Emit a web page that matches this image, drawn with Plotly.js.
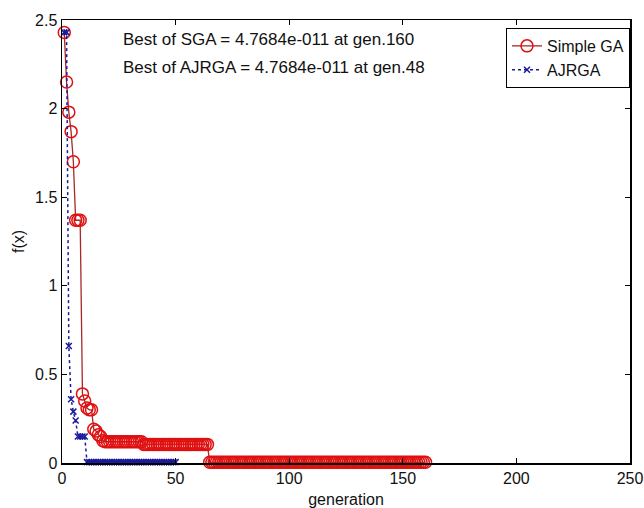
<!DOCTYPE html>
<html><head><meta charset="utf-8">
<script src="https://cdn.plot.ly/plotly-3.0.1.min.js"></script>
<style>html,body{margin:0;padding:0;background:#fff;}#c{width:644px;height:508px;}</style>
</head><body><div id="c"></div>
<script>
const sgaValues = [
 2.43, 2.15, 1.98, 1.87, 1.70, 1.37, 1.37, 1.37, 0.39, 0.35,
 0.31, 0.30, 0.30, 0.19, 0.18, 0.16, 0.15, 0.125, 0.12, 0.12,
 0.12, 0.12, 0.12, 0.12, 0.12, 0.12, 0.12, 0.12, 0.12, 0.12,
 0.12, 0.12, 0.12, 0.12, 0.12, 0.105, 0.105, 0.105, 0.105, 0.105,
 0.105, 0.105, 0.105, 0.105, 0.105, 0.105, 0.105, 0.105, 0.105, 0.105,
 0.105, 0.105, 0.105, 0.105, 0.105, 0.105, 0.105, 0.105, 0.105, 0.105,
 0.105, 0.105, 0.105, 0.105, 0.004, 0.004, 0.004, 0.004, 0.004, 0.004,
 0.004, 0.004, 0.004, 0.004, 0.004, 0.004, 0.004, 0.004, 0.004, 0.004,
 0.004, 0.004, 0.004, 0.004, 0.004, 0.004, 0.004, 0.004, 0.004, 0.004,
 0.004, 0.004, 0.004, 0.004, 0.004, 0.004, 0.004, 0.004, 0.004, 0.004,
 0.004, 0.004, 0.004, 0.004, 0.004, 0.004, 0.004, 0.004, 0.004, 0.004,
 0.004, 0.004, 0.004, 0.004, 0.004, 0.004, 0.004, 0.004, 0.004, 0.004,
 0.004, 0.004, 0.004, 0.004, 0.004, 0.004, 0.004, 0.004, 0.004, 0.004,
 0.004, 0.004, 0.004, 0.004, 0.004, 0.004, 0.004, 0.004, 0.004, 0.004,
 0.004, 0.004, 0.004, 0.004, 0.004, 0.004, 0.004, 0.004, 0.004, 0.004,
 0.004, 0.004, 0.004, 0.004, 0.004, 0.004, 0.004, 0.004, 0.004, 0.004
];
const ajrgaValues = [
 2.43, 2.43, 0.66, 0.36, 0.29, 0.24, 0.15, 0.15, 0.15, 0.15,
 0.005, 0.005, 0.005, 0.005, 0.005, 0.005, 0.005, 0.005, 0.005, 0.005,
 0.005, 0.005, 0.005, 0.005, 0.005, 0.005, 0.005, 0.005, 0.005, 0.005,
 0.005, 0.005, 0.005, 0.005, 0.005, 0.005, 0.005, 0.005, 0.005, 0.005,
 0.005, 0.005, 0.005, 0.005, 0.005, 0.005, 0.005, 0.005, 0.005, 0.005
];
const seriesNames = ["Simple GA", "AJRGA"];
const annotationTexts = [
 "Best of SGA = 4.7684e-011 at gen.160",
 "Best of AJRGA = 4.7684e-011 at gen.48"
];
const xTicks = [0, 50, 100, 150, 200, 250];
const yTicks = [0, 0.5, 1, 1.5, 2, 2.5];
const yTickText = ["0", "0.5", "1", "1.5", "2", "2.5"];

const gens = arr => arr.map((_, i) => i + 1);
const font = "Liberation Sans, Arial, sans-serif";

const traces = [
 {x: gens(sgaValues), y: sgaValues, name: seriesNames[0], type: "scatter", mode: "lines+markers",
  cliponaxis: false,
  line: {color: "#a82828", width: 1.3},
  marker: {symbol: "circle-open", size: 12, color: "#e01010", line: {width: 1.5, color: "#e01010"}}},
 {x: gens(ajrgaValues), y: ajrgaValues, name: seriesNames[1], type: "scatter", mode: "lines+markers",
  cliponaxis: false,
  line: {color: "#1a1a9a", width: 1.5, dash: "dot"},
  marker: {symbol: "x-thin-open", size: 6, color: "#1a1a9a", line: {width: 1.5, color: "#1a1a9a"}}}
];

const layout = {
 width: 644, height: 508,
 margin: {l: 62, r: 14, t: 20, b: 45},
 paper_bgcolor: "#fff", plot_bgcolor: "#fff",
 font: {family: font, size: 16, color: "#111"},
 showlegend: true,
 legend: {x: 1, xanchor: "right", y: 0.982, yanchor: "top", bordercolor: "#000", borderwidth: 1,
  bgcolor: "#fff", font: {family: font, size: 16, color: "#111"}, tracegroupgap: 0, itemwidth: 30},
 xaxis: {range: [0, 250], tickvals: xTicks, ticktext: xTicks.map(String), ticks: "inside", ticklen: 5,
  tickcolor: "#000", showline: true, linecolor: "#000", linewidth: 1.5, mirror: "ticks", showgrid: false,
  zeroline: false, automargin: false, ticklabeloverflow: "allow",
  tickfont: {family: font, size: 16, color: "#111"},
  title: {text: "generation", font: {family: font, size: 16, color: "#111"}, standoff: 10}},
 yaxis: {range: [0, 2.5], tickvals: yTicks, ticktext: yTickText, ticks: "inside", ticklen: 5,
  tickcolor: "#000", showline: true, linecolor: "#000", linewidth: 1.5, mirror: "ticks", showgrid: false,
  zeroline: false, automargin: false, ticklabeloverflow: "allow",
  tickfont: {family: font, size: 16, color: "#111"},
  title: {text: "f(x)", font: {family: font, size: 16, color: "#111"}, standoff: 6}},
 annotations: [
  {text: annotationTexts[0], xref: "paper", yref: "paper", x: 0.103, y: 0.955, xanchor: "left", yanchor: "middle",
   showarrow: false, font: {family: font, size: 17, color: "#111"}},
  {text: annotationTexts[1], xref: "paper", yref: "paper", x: 0.103, y: 0.892, xanchor: "left", yanchor: "middle",
   showarrow: false, font: {family: font, size: 17, color: "#111"}}
 ]
};
Plotly.newPlot("c", traces, layout, {displayModeBar: false, staticPlot: true});
</script></body></html>
